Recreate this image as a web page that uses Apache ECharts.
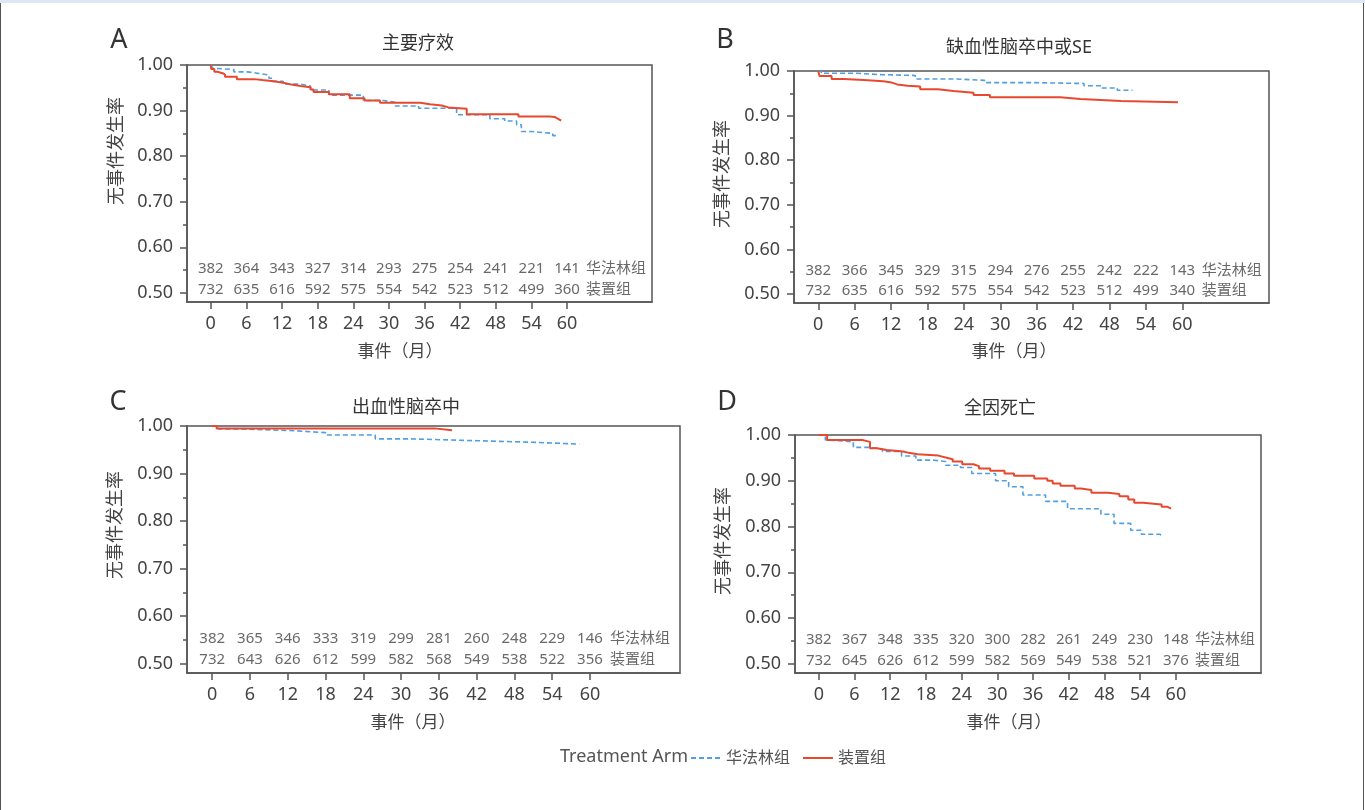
<!DOCTYPE html>
<html lang="zh">
<head>
    <meta charset="UTF-8">
    <title>KM</title>
    <style>
        * {
            margin: 0px;
            padding: 0px;
        }

        body {
            background-color: #ffffff;
            overflow: hidden
        }

        #main {
            position: absolute;
            left: 0px;
            top: 0px;
            width: 1365px;
            height: 810px
        }

        .topbar {
            position: absolute;
            left: 0px;
            top: 0px;
            width: 1365px;
            height: 3px;
            background-color: #dde8f5
        }

        .side {
            position: absolute;
            top: 3px;
            width: 1px;
            height: 807px;
            background-color: #555555
        }
    </style>
</head>
<body>
<div id="main"></div>
<div class="topbar"></div>
<div class="side" style="left:0px"></div>
<div class="side" style="left:1363px"></div>

<script src="https://cdn.jsdelivr.net/npm/echarts@6/dist/echarts.min.js"></script>
<script type="text/javascript">
    // 坐标刻度
    var monthTicks = [0, 6, 12, 18, 24, 30, 36, 42, 48, 54, 60];
    var yMajor = [0.5, 0.6, 0.7, 0.8, 0.9, 1.0];
    var yMinor = [0.55, 0.65, 0.75, 0.85, 0.95];

    // A 主要疗效
    var aWarfarin = [[0, 1], [0.3, 0.993], [0.6, 0.99], [3.9, 0.985], [6.2, 0.982], [7.8, 0.978], [9.8, 0.971], [10.4, 0.964],
        [12.2, 0.958], [15.1, 0.954], [16.8, 0.945], [19.9, 0.934], [25.7, 0.922], [29.1, 0.918], [31.1, 0.91], [35, 0.905],
        [41.4, 0.891], [47, 0.882], [49.5, 0.877], [51.5, 0.869], [52.3, 0.854], [54, 0.85], [57.6, 0.845], [58.5, 0.845]];
    var aDevice = [[0, 1], [0.1, 0.991], [0.6, 0.985], [1.1, 0.982], [2.0, 0.979], [2.4, 0.974], [4.4, 0.969], [7.3, 0.967],
        [8.7, 0.964], [10.9, 0.961], [12.2, 0.958], [13.3, 0.954], [15.1, 0.951], [16.8, 0.946], [17.3, 0.941], [19.9, 0.936],
        [23.4, 0.927], [25.9, 0.922], [28.5, 0.917], [35.3, 0.914], [36.9, 0.911], [38.9, 0.907], [40, 0.904], [43.1, 0.892],
        [51.8, 0.887], [57.1, 0.886], [57.9, 0.882], [58.5, 0.878], [59, 0.878]];
    var aRiskWarfarin = [382, 364, 343, 327, 314, 293, 275, 254, 241, 221, 141];
    var aRiskDevice = [732, 635, 616, 592, 575, 554, 542, 523, 512, 499, 360];

    // B 缺血性脑卒中或SE
    var bWarfarin = [[0, 1], [0.5, 0.995], [6.3, 0.992], [10, 0.99], [16, 0.982], [22.8, 0.979], [27.4, 0.974], [35, 0.972],
        [43.8, 0.967], [46.6, 0.962], [49.3, 0.957], [51.8, 0.957]];
    var bDevice = [[0, 1], [0.2, 0.989], [2.2, 0.982], [4.2, 0.98], [7.5, 0.977], [10.7, 0.974], [12.1, 0.97], [13, 0.967],
        [14.7, 0.965], [16.8, 0.959], [19.7, 0.955], [22.3, 0.951], [25.6, 0.946], [28.3, 0.941], [39.9, 0.937], [43.2, 0.933],
        [49.9, 0.93], [59.3, 0.93]];
    var bRiskWarfarin = [382, 366, 345, 329, 315, 294, 276, 255, 242, 222, 143];
    var bRiskDevice = [732, 635, 616, 592, 575, 554, 542, 523, 512, 499, 340];

    // C 出血性脑卒中
    var cWarfarin = [[0, 1], [1, 0.994], [4.1, 0.99], [13.2, 0.986], [18, 0.981], [25.9, 0.973], [31.3, 0.969], [42.1, 0.966],
        [50.3, 0.962], [58.3, 0.962]];
    var cDevice = [[0, 1], [0.7, 0.995], [35.3, 0.991], [38.1, 0.991]];
    var cRiskWarfarin = [382, 365, 346, 333, 319, 299, 281, 260, 248, 229, 146];
    var cRiskDevice = [732, 643, 626, 612, 599, 582, 568, 549, 538, 522, 356];

    // D 全因死亡
    var dWarfarin = [[0, 1], [1.1, 0.989], [1.7, 0.985], [5.8, 0.973], [8.6, 0.969], [10.7, 0.964], [13.9, 0.954], [16.3, 0.945],
        [19.4, 0.942], [21.3, 0.934], [23.8, 0.929], [25.7, 0.916], [29.7, 0.9], [31.9, 0.887], [34.3, 0.869], [38.1, 0.855],
        [41.8, 0.839], [47.4, 0.827], [49.6, 0.807], [52.4, 0.792], [54.2, 0.783], [57.3, 0.781], [57.6, 0.781]];
    var dDevice = [[0, 1], [1.4, 0.989], [7.3, 0.985], [8.6, 0.971], [9.8, 0.967], [11.4, 0.964], [14.2, 0.961], [15.1, 0.958],
        [16.6, 0.955], [20.1, 0.951], [21.3, 0.947], [22.5, 0.942], [24.1, 0.936], [26, 0.932], [26.9, 0.927], [28.8, 0.922],
        [31.2, 0.916], [32.8, 0.911], [36.2, 0.905], [38.4, 0.9], [39.3, 0.894], [40.6, 0.889], [43, 0.883], [44, 0.88],
        [45.8, 0.874], [48.6, 0.871], [50.5, 0.866], [52, 0.859], [53, 0.852], [54.5, 0.848], [57.6, 0.843], [58.6, 0.839],
        [59.2, 0.839]];
    var dRiskWarfarin = [382, 367, 348, 335, 320, 300, 282, 261, 249, 230, 148];
    var dRiskDevice = [732, 645, 626, 612, 599, 582, 569, 549, 538, 521, 376];

    var groupNames = ['华法林组', '装置组'];
    var panelTitles = ['主要疗效', '缺血性脑卒中或SE', '出血性脑卒中', '全因死亡'];
    var panelLetters = ['A', 'B', 'C', 'D'];

    var FONT = "'Noto Sans', 'Noto Sans CJK SC', sans-serif";
    var BLUE = '#4f9fe2';
    var RED = '#e8492e';
    var AXIS = '#555555';
    var TEXT = '#444444';

    var panels = [
        {grid: {left: 187, top: 65, width: 465, height: 237}, w: aWarfarin, d: aDevice, rw: aRiskWarfarin, rd: aRiskDevice,
            letter: [119, 40], title: [418, 44], yname: [117, 151], xname: [400, 352]},
        {grid: {left: 794, top: 71, width: 475, height: 232}, w: bWarfarin, d: bDevice, rw: bRiskWarfarin, rd: bRiskDevice,
            letter: [725, 40], title: [1019, 48], yname: [723, 174], xname: [1014, 352]},
        {grid: {left: 187, top: 426, width: 493, height: 247}, w: cWarfarin, d: cDevice, rw: cRiskWarfarin, rd: cRiskDevice,
            letter: [118, 402], title: [406, 408], yname: [116, 525], xname: [413, 723]},
        {grid: {left: 795, top: 435, width: 466, height: 238}, w: dWarfarin, d: dDevice, rw: dRiskWarfarin, rd: dRiskDevice,
            letter: [727, 402], title: [1000, 409], yname: [724, 541], xname: [1009, 723]}
    ];

    var grids = [], xAxes = [], yAxes = [], series = [], graphics = [];

    panels.forEach(function (p, i) {
        grids.push({
            left: p.grid.left, top: p.grid.top, width: p.grid.width, height: p.grid.height,
            show: true, borderColor: AXIS, borderWidth: 1.5, backgroundColor: 'transparent'
        });
        xAxes.push({
            type: 'value', gridIndex: i, min: -4, max: 74.3,
            axisLine: {show: true, onZero: false, lineStyle: {color: AXIS, width: 1.5}},
            axisTick: {show: true, length: 7, customValues: monthTicks, lineStyle: {color: AXIS, width: 1.5}},
            axisLabel: {customValues: monthTicks, margin: 13, color: TEXT, fontSize: 18, fontFamily: FONT},
            splitLine: {show: false}
        });
        yAxes.push({
            type: 'value', gridIndex: i, min: 0.48, max: 1.0, position: 'left',
            axisLine: {show: true, onZero: false, lineStyle: {color: AXIS, width: 1.5}},
            axisTick: {show: true, length: 7, customValues: yMajor, lineStyle: {color: AXIS, width: 1.5}},
            axisLabel: {
                customValues: yMajor, margin: 14, color: TEXT, fontSize: 18, fontFamily: FONT,
                formatter: function (v) {
                    return v.toFixed(2);
                }
            },
            splitLine: {show: false}
        });
        yAxes.push({
            type: 'value', gridIndex: i, min: 0.48, max: 1.0, position: 'left',
            axisLine: {show: false, onZero: false},
            axisTick: {show: true, length: 4, customValues: yMinor, lineStyle: {color: AXIS, width: 1.5}},
            axisLabel: {show: false},
            splitLine: {show: false}
        });

        series.push({
            name: groupNames[0], type: 'line', step: 'end', xAxisIndex: i, yAxisIndex: i * 2,
            data: p.w, symbol: 'none', showSymbol: false,
            lineStyle: {color: BLUE, width: 1.6, type: [5, 3]}, itemStyle: {color: BLUE}
        });
        series.push({
            name: groupNames[1], type: 'line', step: 'end', xAxisIndex: i, yAxisIndex: i * 2,
            data: p.d, symbol: 'none', showSymbol: false,
            lineStyle: {color: RED, width: 2}, itemStyle: {color: RED}
        });

        // 风险人数表
        var rows = [[p.rw, 0.553, groupNames[0]], [p.rd, 0.507, groupNames[1]]];
        rows.forEach(function (r) {
            var pts = monthTicks.map(function (m, k) {
                return [m, r[1], String(r[0][k])];
            });
            series.push({
                type: 'scatter', xAxisIndex: i, yAxisIndex: i * 2, symbolSize: 0, silent: true,
                data: pts,
                label: {
                    show: true, position: 'inside', color: TEXT, fontSize: 15, fontFamily: FONT,
                    formatter: function (q) {
                        return q.data[2];
                    }
                }
            });
            series.push({
                type: 'scatter', xAxisIndex: i, yAxisIndex: i * 2, symbolSize: 0, silent: true,
                data: [[63.2, r[1], r[2]]],
                label: {
                    show: true, position: 'inside', align: 'left', color: TEXT, fontSize: 15, fontFamily: FONT,
                    formatter: function (q) {
                        return q.data[2];
                    }
                }
            });
        });

        graphics.push({
            type: 'text', x: p.letter[0], y: p.letter[1],
            style: {text: panelLetters[i], fill: '#333333', font: '27px ' + FONT, textAlign: 'center', textVerticalAlign: 'middle'}
        });
        graphics.push({
            type: 'text', x: p.title[0], y: p.title[1],
            style: {text: panelTitles[i], fill: '#333333', font: '18px ' + FONT, textAlign: 'center', textVerticalAlign: 'middle'}
        });
        graphics.push({
            type: 'text', x: p.yname[0], y: p.yname[1], rotation: Math.PI / 2,
            style: {text: '无事件发生率', fill: '#444444', font: '18px ' + FONT, textAlign: 'center', textVerticalAlign: 'middle'}
        });
        graphics.push({
            type: 'text', x: p.xname[0], y: p.xname[1],
            style: {text: '事件（月）', fill: '#444444', font: '17px ' + FONT, textAlign: 'center', textVerticalAlign: 'middle'}
        });
    });

    graphics.push({
        type: 'text', x: 560, y: 757,
        style: {text: 'Treatment Arm', fill: '#555555', font: '18px ' + FONT, textAlign: 'left', textVerticalAlign: 'middle'}
    });

    var myChart = echarts.init(document.getElementById('main'));
    myChart.setOption({
        animation: false,
        backgroundColor: 'transparent',
        grid: grids,
        xAxis: xAxes,
        yAxis: yAxes,
        legend: {
            data: groupNames,
            left: 690, top: 750, padding: 0,
            itemWidth: 30, itemHeight: 14, itemGap: 12,
            itemStyle: {color: 'transparent', borderWidth: 0, opacity: 0},
            textStyle: {color: '#555555', fontSize: 16, fontFamily: FONT}
        },
        graphic: graphics,
        series: series
    });
</script>
</body>
</html>
